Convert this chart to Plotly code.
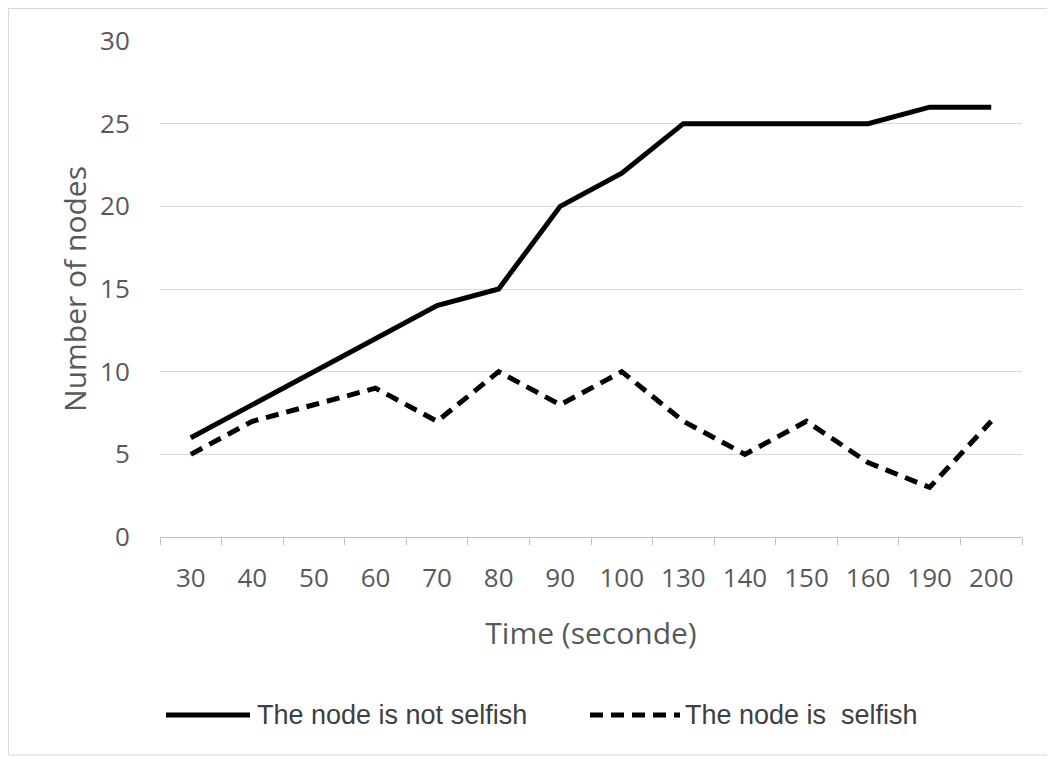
import plotly.graph_objects as go

times = ["30", "40", "50", "60", "70", "80", "90", "100", "130", "140", "150", "160", "190", "200"]
not_selfish = [6, 8, 10, 12, 14, 15, 20, 22, 25, 25, 25, 25, 26, 26]
selfish = [5, 7, 8, 9, 7, 10, 8, 10, 7, 5, 7, 4.5, 3, 7]
series_names = ["The node is not selfish", "The node is  selfish"]
y_ticks = [0, 5, 10, 15, 20, 25, 30]

OFF = 8  # page body margin
W, H = 1055 - OFF, 759 - OFF
L, R, T, B = 160, 1022, 41, 537  # reference pixel positions of plot area

def px_x(p):
    return (p - L) / (R - L)

def px_y(p):
    return (B - p) / (B - T)

fig = go.Figure()
fig.add_trace(go.Scatter(x=times, y=not_selfish, mode="lines", name=series_names[0],
                         line=dict(color="black", width=5), showlegend=False))
fig.add_trace(go.Scatter(x=times, y=selfish, mode="lines", name=series_names[1],
                         line=dict(color="black", width=5, dash="13px,8px"), showlegend=False))

tick_font = dict(family="'Open Sans', Lato, sans-serif", size=26, color="#595959")
title_font = dict(family="'Open Sans', Lato, sans-serif", size=30, color="#595959")

fig.update_layout(
    width=W, height=H,
    margin=dict(l=L - OFF, r=W - (R - OFF), t=T - OFF, b=H - (B - OFF)),
    paper_bgcolor="white", plot_bgcolor="white",
    showlegend=False,
    xaxis=dict(type="category", tickson="boundaries", ticks="outside", ticklen=7,
               tickcolor="#bfbfbf", tickwidth=1, showline=True, linecolor="#bfbfbf",
               linewidth=1, showgrid=False, tickfont=tick_font, ticklabelstandoff=18,
               title=dict(text="Time (seconde)", font=title_font, standoff=28),
               range=[-0.5, len(times) - 0.5]),
    yaxis=dict(range=[0, 30], tickvals=y_ticks, showgrid=True, gridcolor="#d9d9d9",
               gridwidth=1, zeroline=False, showline=False, tickfont=tick_font,
               ticks="outside", ticklen=24, tickcolor="rgba(0,0,0,0)",
               title=dict(text="Number of nodes", font=title_font, standoff=4)),
)

# chart border
fig.add_shape(type="rect", xref="paper", yref="paper",
              x0=px_x(OFF + 0.5), x1=px_x(1070), y0=px_y(755), y1=px_y(OFF + 0.5),
              line=dict(color="#d9d9d9", width=1), layer="below")

# manual legend
leg_y = px_y(715)
leg_font = dict(family="'Liberation Sans Narrow', 'Arial Narrow', 'Liberation Sans', sans-serif",
                size=27, color="#404040")
fig.add_shape(type="line", xref="paper", yref="paper", x0=px_x(166), x1=px_x(250),
              y0=leg_y, y1=leg_y, line=dict(color="black", width=5))
fig.add_shape(type="line", xref="paper", yref="paper", x0=px_x(590), x1=px_x(680),
              y0=leg_y, y1=leg_y, line=dict(color="black", width=5, dash="13px,8px"))
fig.add_annotation(xref="paper", yref="paper", x=px_x(255), y=leg_y, text=series_names[0],
                   showarrow=False, xanchor="left", yanchor="middle", font=leg_font)
fig.add_annotation(xref="paper", yref="paper", x=px_x(683), y=leg_y, text=series_names[1],
                   showarrow=False, xanchor="left", yanchor="middle", font=leg_font)

fig.write_html("out.html")
